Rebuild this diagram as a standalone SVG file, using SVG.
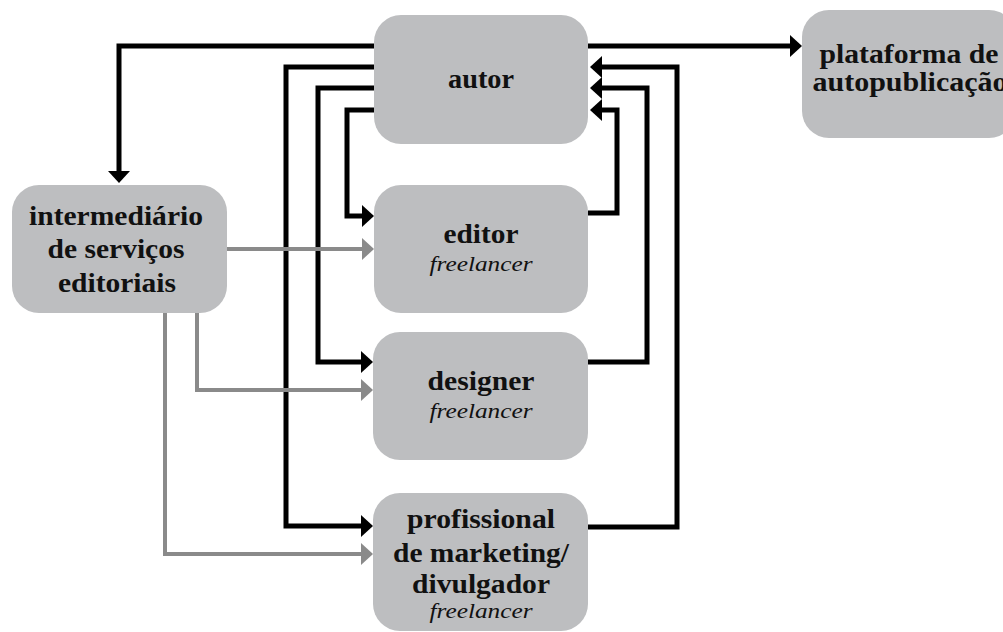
<svg xmlns="http://www.w3.org/2000/svg" width="1003" height="632" viewBox="0 0 1003 632">
<style>
.box{fill:#bdbec0;}
.t{font-family:'Liberation Serif','DejaVu Serif',serif;font-weight:bold;font-size:28px;fill:#111;text-anchor:middle;}
.f{font-family:'Liberation Serif','DejaVu Serif',serif;font-style:italic;font-size:21px;fill:#111;text-anchor:middle;}
.k{fill:none;stroke:#000;stroke-width:5;stroke-linejoin:miter;marker-end:url(#ak);}
.g{fill:none;stroke:#8a8a8a;stroke-width:4;stroke-linejoin:miter;marker-end:url(#ag);}
</style>
<defs>
<marker id="ak" markerUnits="userSpaceOnUse" markerWidth="12" markerHeight="24" refX="0" refY="12" orient="auto" overflow="visible">
<path d="M0,1 L12,12 L0,23 Z" fill="#000"/>
</marker>
<marker id="ag" markerUnits="userSpaceOnUse" markerWidth="12" markerHeight="24" refX="0" refY="12" orient="auto" overflow="visible">
<path d="M0,1 L12,12 L0,23 Z" fill="#8a8a8a"/>
</marker>
</defs>
<rect width="1003" height="632" fill="#fff"/>
<g id="connectors">
<path class="k" d="M374,46 H119 V171"/>
<path class="k" d="M588,46 H790"/>
<path class="k" d="M374,67 H286 V526 H361"/>
<path class="k" d="M374,88 H318 V362 H361"/>
<path class="k" d="M374,110 H347 V216 H362"/>
<path class="k" d="M588,213 H617 V110 H602"/>
<path class="k" d="M588,362 H647 V88 H602"/>
<path class="k" d="M588,527 H677 V67 H602"/>
<path class="g" d="M227,249 H362"/>
<path class="g" d="M197,313 V390 H361"/>
<path class="g" d="M165,313 V554 H361"/>
</g>
<g id="autor">
<rect class="box" x="374" y="15" width="214" height="129" rx="27"/>
<text class="t" x="481" y="88" textLength="66" lengthAdjust="spacingAndGlyphs">autor</text>
</g>
<g id="plataforma">
<rect class="box" x="802" y="10" width="214" height="128" rx="27"/>
<text class="t" x="909" y="63" font-size="23" textLength="179" lengthAdjust="spacingAndGlyphs">plataforma de</text>
<text class="t" x="910" y="91" font-size="23" textLength="195" lengthAdjust="spacingAndGlyphs">autopublicação</text>
</g>
<g id="intermediario">
<rect class="box" x="12" y="185" width="215" height="128" rx="27"/>
<text class="t" x="116" y="225" textLength="174" lengthAdjust="spacingAndGlyphs">intermediário</text>
<text class="t" x="116" y="258" textLength="137" lengthAdjust="spacingAndGlyphs">de serviços</text>
<text class="t" x="117" y="292" textLength="118" lengthAdjust="spacingAndGlyphs">editoriais</text>
</g>
<g id="editor">
<rect class="box" x="374" y="185" width="214" height="128" rx="27"/>
<text class="t" x="481" y="243" textLength="75" lengthAdjust="spacingAndGlyphs">editor</text>
<text class="f" x="481" y="271" textLength="103" lengthAdjust="spacingAndGlyphs">freelancer</text>
</g>
<g id="designer">
<rect class="box" x="373" y="332" width="215" height="128" rx="27"/>
<text class="t" x="481" y="390" textLength="107" lengthAdjust="spacingAndGlyphs">designer</text>
<text class="f" x="481" y="418" textLength="103" lengthAdjust="spacingAndGlyphs">freelancer</text>
</g>
<g id="profissional">
<rect class="box" x="373" y="493" width="215" height="138" rx="27"/>
<text class="t" x="481" y="528" textLength="148" lengthAdjust="spacingAndGlyphs">profissional</text>
<text class="t" x="481" y="562" textLength="176" lengthAdjust="spacingAndGlyphs">de marketing/</text>
<text class="t" x="481" y="593" textLength="138" lengthAdjust="spacingAndGlyphs">divulgador</text>
<text class="f" x="481" y="618" textLength="103" lengthAdjust="spacingAndGlyphs">freelancer</text>
</g>
</svg>
